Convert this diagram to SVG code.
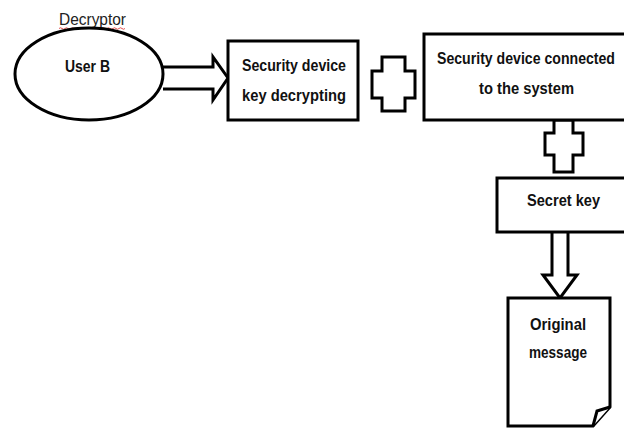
<svg xmlns="http://www.w3.org/2000/svg" width="624" height="428" viewBox="0 0 624 428">
<style>
.s{fill:#fff;stroke:#000;stroke-width:3;stroke-linejoin:miter}
.t{font-family:"Liberation Sans",Arial,sans-serif;font-weight:bold;font-size:17px;fill:#111}
.r{font-family:"Liberation Sans",Arial,sans-serif;font-size:17px;fill:#222}
</style>
<rect width="624" height="428" fill="#fff"/>
<g id="decryptor-label">
<text class="r" x="59" y="25" textLength="67" lengthAdjust="spacingAndGlyphs">Decryptor</text>
<path d="M59 28.5 q1.5 -1.5 3 0 t3 0 t3 0 t3 0 t3 0 t3 0 t3 0 t3 0 t3 0 t3 0 t3 0 t3 0 t3 0 t3 0 t3 0 t3 0 t3 0 t3 0 t3 0 t3 0 t3 0 t3 0" fill="none" stroke="#e04040" stroke-width="0.9"/>
</g>
<g id="connectors">
<path class="s" d="M163 67 H213 V57 L228 78 L213 100 V89 H163"/>
<path class="s" d="M382 57 H405 V71 H415 V98 H405 V111 H382 V98 H372 V71 H382 Z"/>
<path class="s" d="M554 120 H573 V133 H583 V155 H573 V172 H554 V155 H545 V133 H554 Z"/>
<path class="s" d="M552 232 V275 H543 L560 298 L577 275 H568 V232"/>
</g>
<g id="user-b">
<ellipse class="s" cx="89" cy="74" rx="74" ry="46"/>
<text class="t" x="65" y="72" textLength="45" lengthAdjust="spacingAndGlyphs">User B</text>
</g>
<g id="key-decrypting">
<rect class="s" x="228" y="41" width="130" height="79"/>
<text class="t" x="242" y="71" textLength="104" lengthAdjust="spacingAndGlyphs">Security device</text>
<text class="t" x="242" y="101" textLength="104" lengthAdjust="spacingAndGlyphs">key decrypting</text>
</g>
<g id="device-connected">
<rect class="s" x="424" y="34" width="210" height="86"/>
<text class="t" x="437" y="64" textLength="178" lengthAdjust="spacingAndGlyphs">Security device connected</text>
<text class="t" x="479" y="94" textLength="95" lengthAdjust="spacingAndGlyphs">to the system</text>
</g>
<g id="secret-key">
<rect class="s" x="497" y="178" width="137" height="54"/>
<text class="t" x="527" y="206" textLength="73" lengthAdjust="spacingAndGlyphs">Secret key</text>
</g>
<g id="original-message">
<path class="s" d="M508 298 H610 V407 L593 426 H508 Z"/>
<path class="s" d="M593 426 L597 411 L610 407" stroke-width="2"/>
<text class="t" x="530" y="330" textLength="56" lengthAdjust="spacingAndGlyphs">Original</text>
<text class="t" x="529" y="358" textLength="58" lengthAdjust="spacingAndGlyphs">message</text>
</g>
</svg>
